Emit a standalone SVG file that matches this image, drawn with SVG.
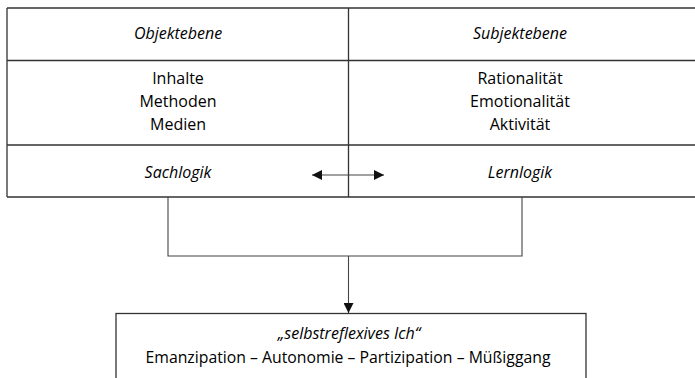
<svg xmlns="http://www.w3.org/2000/svg" width="695" height="378" viewBox="0 0 695 378">
<defs>
<style>
.t{font-family:"Open Sans","Noto Sans",sans-serif;font-size:16px;fill:#000;text-anchor:middle}
.i{font-style:italic}
.ln{stroke:#333;stroke-width:1.3;fill:none}
.cn{stroke:#444;stroke-width:1.1;fill:none}
</style>
<marker id="ah" viewBox="0 0 10 10" refX="10" refY="5" markerWidth="10" markerHeight="10" markerUnits="userSpaceOnUse" orient="auto-start-reverse">
<path d="M0,0 L10,5 L0,10 z" fill="#111"/>
</marker>
</defs>
<g id="table">
<path class="ln" d="M7,8 H700 M7,60.5 H700 M7,145 H700 M7,197 H700 M7,8 V197 M348.5,8 V197"/>
</g>
<g id="objektebene"><text class="t i" x="178" y="39">Objektebene</text></g>
<g id="subjektebene"><text class="t i" x="520" y="39">Subjektebene</text></g>
<g id="objekt-inhalte">
<text class="t" x="178" y="84">Inhalte</text>
<text class="t" x="178" y="107">Methoden</text>
<text class="t" x="178" y="130">Medien</text>
</g>
<g id="subjekt-inhalte">
<text class="t" x="520" y="84">Rationalität</text>
<text class="t" x="520" y="107">Emotionalität</text>
<text class="t" x="520" y="130">Aktivität</text>
</g>
<g id="sachlogik"><text class="t i" x="178" y="178">Sachlogik</text></g>
<g id="lernlogik"><text class="t i" x="520" y="178">Lernlogik</text></g>
<g id="ich">
<rect class="ln" x="116" y="313.5" width="470" height="80"/>
<text class="t i" x="349" y="339">„selbstreflexives Ich“</text>
<text class="t" x="348" y="363" textLength="405" lengthAdjust="spacingAndGlyphs">Emanzipation – Autonomie – Partizipation – Müßiggang</text>
</g>
<g id="connectors">
<line class="cn" x1="312" y1="175" x2="384" y2="175" marker-start="url(#ah)" marker-end="url(#ah)"/>
<path class="cn" d="M168,197 V256 H522 V197"/>
<line class="cn" x1="348.5" y1="256" x2="348.5" y2="313" marker-end="url(#ah)"/>
</g>
</svg>
